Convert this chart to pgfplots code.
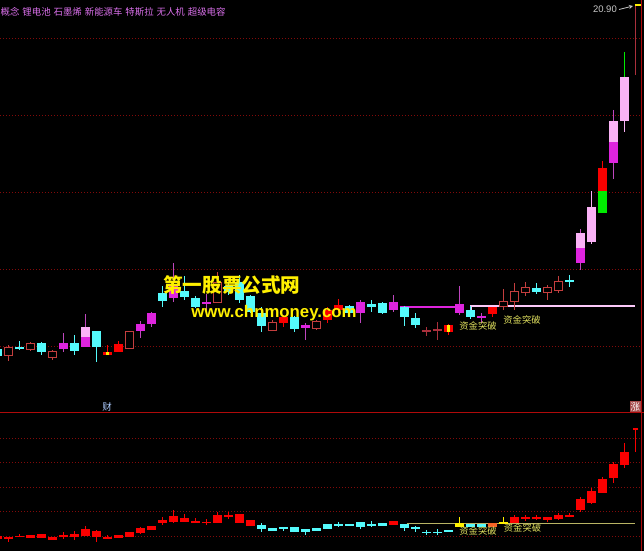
\documentclass[border=0pt]{standalone}
\usepackage{pgfplots}
\pgfplotsset{compat=1.18}
\usepackage{pgfplotstable}
\usepackage{fontspec}
\setmainfont{Liberation Sans}
\newfontfamily\cjk{Noto Sans CJK SC}

\definecolor{cyanC}{RGB}{84,250,252}
\definecolor{hollowC}{RGB}{196,62,62}
\definecolor{magC}{RGB}{222,36,222}
\definecolor{magW}{RGB}{190,70,190}
\definecolor{pinkC}{RGB}{250,178,246}
\definecolor{redC}{RGB}{250,0,0}
\definecolor{greenC}{RGB}{0,235,0}
\definecolor{dullC}{RGB}{170,48,60}
\definecolor{gridC}{RGB}{130,10,10}
\definecolor{divC}{RGB}{175,10,10}
\definecolor{labC}{RGB}{225,225,95}
\definecolor{topC}{RGB}{218,112,235}
\definecolor{oliveC}{RGB}{185,180,100}
\definecolor{yelC}{RGB}{255,240,0}
\definecolor{orC}{RGB}{245,100,40}
\definecolor{caiC}{RGB}{175,205,255}
\definecolor{zhangBg}{RGB}{165,75,75}
\definecolor{greyT}{RGB}{200,200,200}

% ---------- price panel (values are pixel rows, top = 0) ----------
\pgfplotstableread{
i t b
0 349 356
2 347 349
4 343 352
7 343 351
9 331 347
15 293 301
17 291 297
18 298 307
21 286 292
22 282 300
23 296 312
24 313 326
27 317 329
32 306 313
34 304 307
35 303 313
37 307 317
38 318 325
43 310 317
49 288 292
52 280 282
}\cyanBody
\pgfplotstableread{
i h l
0 347 358
2 341 350
4 342 355
7 335 355
9 331 362
15 286 307
17 276 300
18 296 308
21 283 295
22 275 303
23 295 313
24 307 332
27 316 332
32 305 314
34 300 312
35 302 314
37 306 326
38 313 328
43 306 319
49 283 294
52 275 287
}\cyanWick
\pgfplotstableread{
i t b
1 347 356
3 343 350
5 351 358
12 331 349
20 282 303
25 322 331
29 321 329
46 301 307
47 291 302
48 287 293
50 287 293
51 281 291
}\hollowBody
\pgfplotstableread{
i h l
1 345 361
3 342 351
5 350 360
20 272 303
25 320 331
29 320 330
46 289 310
47 283 310
48 282 296
50 285 300
51 276 293
}\hollowWick
\pgfplotstableread{
i t b
6 343 349
8 337 347
13 324 331
14 313 324
16 286 298
19 302 304
28 325 328
33 302 313
36 302 310
42 304 313
44 316 318
53 248 263
56 142 163
}\magBody
\pgfplotstableread{
i h l
6 333 352
8 314 347
13 321 338
14 312 327
16 263 302
19 294 312
28 323 340
33 300 323
36 295 312
42 286 315
44 313 323
53 229 270
56 110 179
}\magWick
\pgfplotstableread{
i t b
8 327 337
53 233 248
54 207 242
56 121 142
57 77 121
}\pinkBody
\pgfplotstableread{
i h l
54 191 244
57 121 132
}\pinkWick
\pgfplotstableread{
i t b
11 344 352
26 317 323
30 310 320
31 305 310
45 307 314
55 168 191
}\redBody
\pgfplotstableread{
i h l
11 341 352
26 315 327
30 307 323
31 299 313
45 307 317
55 161 213
10 345 355
41 324 335
}\redWick
\pgfplotstableread{
i t b
55 191 213
}\greenBody
\pgfplotstableread{
i h l
57 52 77
}\greenWick
\pgfplotstableread{
i t b
39 330 332
40 329 331
}\dullBody
\pgfplotstableread{
i h l
39 327 336
40 322 340
58 5 75
}\dullWick
\pgfplotstableread{
i t b
10 352 355
41 325 332
}\ryBody

% ---------- indicator panel ----------
\pgfplotstableread{
i t b
0 536 539
1 537 539
2 536 537
3 535 538
4 534 538
5 537 540
6 535 537
7 534 537
8 529 536
9 531 537
10 537 539
11 535 538
12 532 537
13 528 533
14 526 530
15 520 523
16 516 522
17 518 522
18 521 523
19 522 523
20 515 523
21 515 517
22 514 523
23 520 526
36 521 525
47 517 523
48 517 519
49 517 519
50 517 520
51 515 519
52 515 517
53 499 510
54 491 503
55 479 493
56 464 478
57 452 465
}\lowRedBody
\pgfplotstableread{
i h l
1 537 542
2 534 537
6 532 539
7 531 540
8 526 536
9 530 542
10 535 539
13 527 534
15 517 525
16 510 523
17 514 522
18 518 523
19 519 525
20 512 523
21 512 519
47 515 523
48 515 521
49 515 520
50 517 522
51 513 520
52 513 517
53 497 512
54 488 504
55 477 493
56 462 483
57 443 468
58 428 452
}\lowRedWick
\pgfplotstableread{
i t b
24 525 529
25 528 531
26 527 529
27 527 532
28 529 532
29 528 531
30 524 529
31 524 526
32 524 526
33 522 527
34 524 526
35 523 526
37 524 528
38 527 529
39 532 533
40 532 533
41 530 532
43 524 527
44 524 527
}\lowCyanBody
\pgfplotstableread{
i h l
24 523 532
26 527 531
28 529 535
31 522 527
33 522 529
34 521 527
37 524 531
38 526 532
39 530 535
40 529 535
}\lowCyanWick
\pgfplotstableread{
i t b
42 523 527
46 522 524
}\lowYelBody
\pgfplotstableread{
i h l
42 517 527
46 517 524
}\lowYelWick

% bodies and wicks: one straight segment per row (quiver without arrow heads)
\newcommand{\B}[3]{\addplot[forget plot, mark=none, draw=#1, line width=#2, line cap=butt, -,
  quiver={u=0, v=\thisrow{b}-\thisrow{t}}] table[x=i, y=t] {#3};}
\newcommand{\Bin}[3]{\addplot[forget plot, mark=none, draw=#1, line width=#2, line cap=butt, -,
  quiver={u=0, v=\thisrow{b}-\thisrow{t}-2}] table[x=i, y expr=\thisrow{t}+1] {#3};}
\newcommand{\W}[2]{\addplot[forget plot, mark=none, draw=#1, line width=1bp, line cap=butt, -,
  quiver={u=0, v=\thisrow{l}-\thisrow{h}}] table[x=i, y=h] {#2};}

\begin{document}
\begin{tikzpicture}
\useasboundingbox (0,0) rectangle (644bp,551bp);
\clip (0,0) rectangle (644bp,551bp);
\fill[black] (0,0) rectangle (644bp,551bp);
\begin{scope}[shift={(0bp,551bp)}, x=1bp, y=-1bp]
  \foreach \yy in {39,116,193,270,347,439,463,488,512,537}
    \draw[gridC, line width=1bp, dash pattern=on 1bp off 2bp] (0,\yy) -- (641,\yy);
  \draw[divC, line width=1bp] (0,412.5) -- (644,412.5);
  \draw[divC, line width=1bp] (641.5,0) -- (641.5,551);
\end{scope}
\begin{axis}[at={(0,0)}, anchor=south west, scale only axis,
  width=644bp, height=551bp,
  xmin=0.22727, xmax=58.77273, ymin=0, ymax=551, y dir=reverse,
  axis lines=none, clip=true]
  % level lines
  \addplot[magC, line width=1.2bp, forget plot] coordinates {(36.6,307) (41.9,307)};
  \addplot[pinkC!70!white, line width=1.2bp, forget plot] coordinates {(43.05,312) (43.05,306) (57.95,306)};
  \addplot[oliveC, line width=1.2bp, forget plot] coordinates {(37.2,523.5) (57.95,523.5)};
  % price panel
  \W{cyanC}{\cyanWick}
  \W{hollowC}{\hollowWick}
  \W{magW}{\magWick}
  \W{pinkC}{\pinkWick}
  \W{redC}{\redWick}
  \W{greenC}{\greenWick}
  \W{dullC}{\dullWick}
  \B{cyanC}{8.6bp}{\cyanBody}
  \B{hollowC}{8.6bp}{\hollowBody}
  \Bin{black}{6.6bp}{\hollowBody}
  \B{magC}{8.6bp}{\magBody}
  \B{pinkC}{8.6bp}{\pinkBody}
  \B{redC}{8.6bp}{\redBody}
  \B{greenC}{8.6bp}{\greenBody}
  \B{dullC}{8.6bp}{\dullBody}
  \B{redC}{8.6bp}{\ryBody}
  \B{yelC}{3.5bp}{\ryBody}
  \addplot[dullC, line width=1.6bp, forget plot] coordinates {(58,5) (58,75)};
  \addplot[yelC, line width=2bp, forget plot] coordinates {(57.95,5) (58.5,5)};
  % indicator panel
  \W{redC}{\lowRedWick}
  \W{cyanC}{\lowCyanWick}
  \W{yelC}{\lowYelWick}
  \B{redC}{8.6bp}{\lowRedBody}
  \B{cyanC}{8.6bp}{\lowCyanBody}
  \B{yelC}{8.6bp}{\lowYelBody}
  \addplot[orC, line width=8.6bp, forget plot] coordinates {(45,523) (45,527)};
  \addplot[redC, line width=5bp, forget plot] coordinates {(58,428) (58,430)};
\end{axis}
\begin{scope}[shift={(0bp,551bp)}, x=1bp, y=-1bp]
  \node[anchor=west, inner sep=0, text=topC, font=\cjk\fontsize{9.4bp}{11bp}\selectfont] at (0.5,11.5) {概念\hspace{3bp}锂电池\hspace{3bp}石墨烯\hspace{3bp}新能源车\hspace{3bp}特斯拉\hspace{3bp}无人机\hspace{3bp}超级电容};
  \node[anchor=east, inner sep=0, text=greyT, font=\fontsize{9.5bp}{11bp}\selectfont] at (617,9.5) {20.90};
  \draw[greyT, line width=0.8bp, ->, >=stealth] (619,9.5) -- (633,6);
  \node[inner sep=0, text=yelC, font=\cjk\bfseries\fontsize{19.6bp}{21bp}\selectfont] at (232,285.5) {第一股票公式网};
  \node[inner sep=0, text=yelC, font=\bfseries\fontsize{16.8bp}{18bp}\selectfont] at (274,313.5) {www.chnmoney.com};
  \node[inner sep=0, text=labC, font=\cjk\fontsize{9.3bp}{10bp}\selectfont] at (478,326) {资金突破};
  \node[inner sep=0, text=labC, font=\cjk\fontsize{9.3bp}{10bp}\selectfont] at (522,319.5) {资金突破};
  \node[inner sep=0, text=labC, font=\cjk\fontsize{9.3bp}{10bp}\selectfont] at (478,530.5) {资金突破};
  \node[inner sep=0, text=labC, font=\cjk\fontsize{9.3bp}{10bp}\selectfont] at (522.5,527.5) {资金突破};
  \node[inner sep=0, text=caiC, font=\cjk\fontsize{9.5bp}{10bp}\selectfont] at (107,406.5) {财};
  \fill[zhangBg] (629.5,401) rectangle (641,412);
  \node[inner sep=0, text=white, font=\cjk\fontsize{9.5bp}{10bp}\selectfont] at (635.3,406.5) {涨};
\end{scope}
\end{tikzpicture}
\end{document}
